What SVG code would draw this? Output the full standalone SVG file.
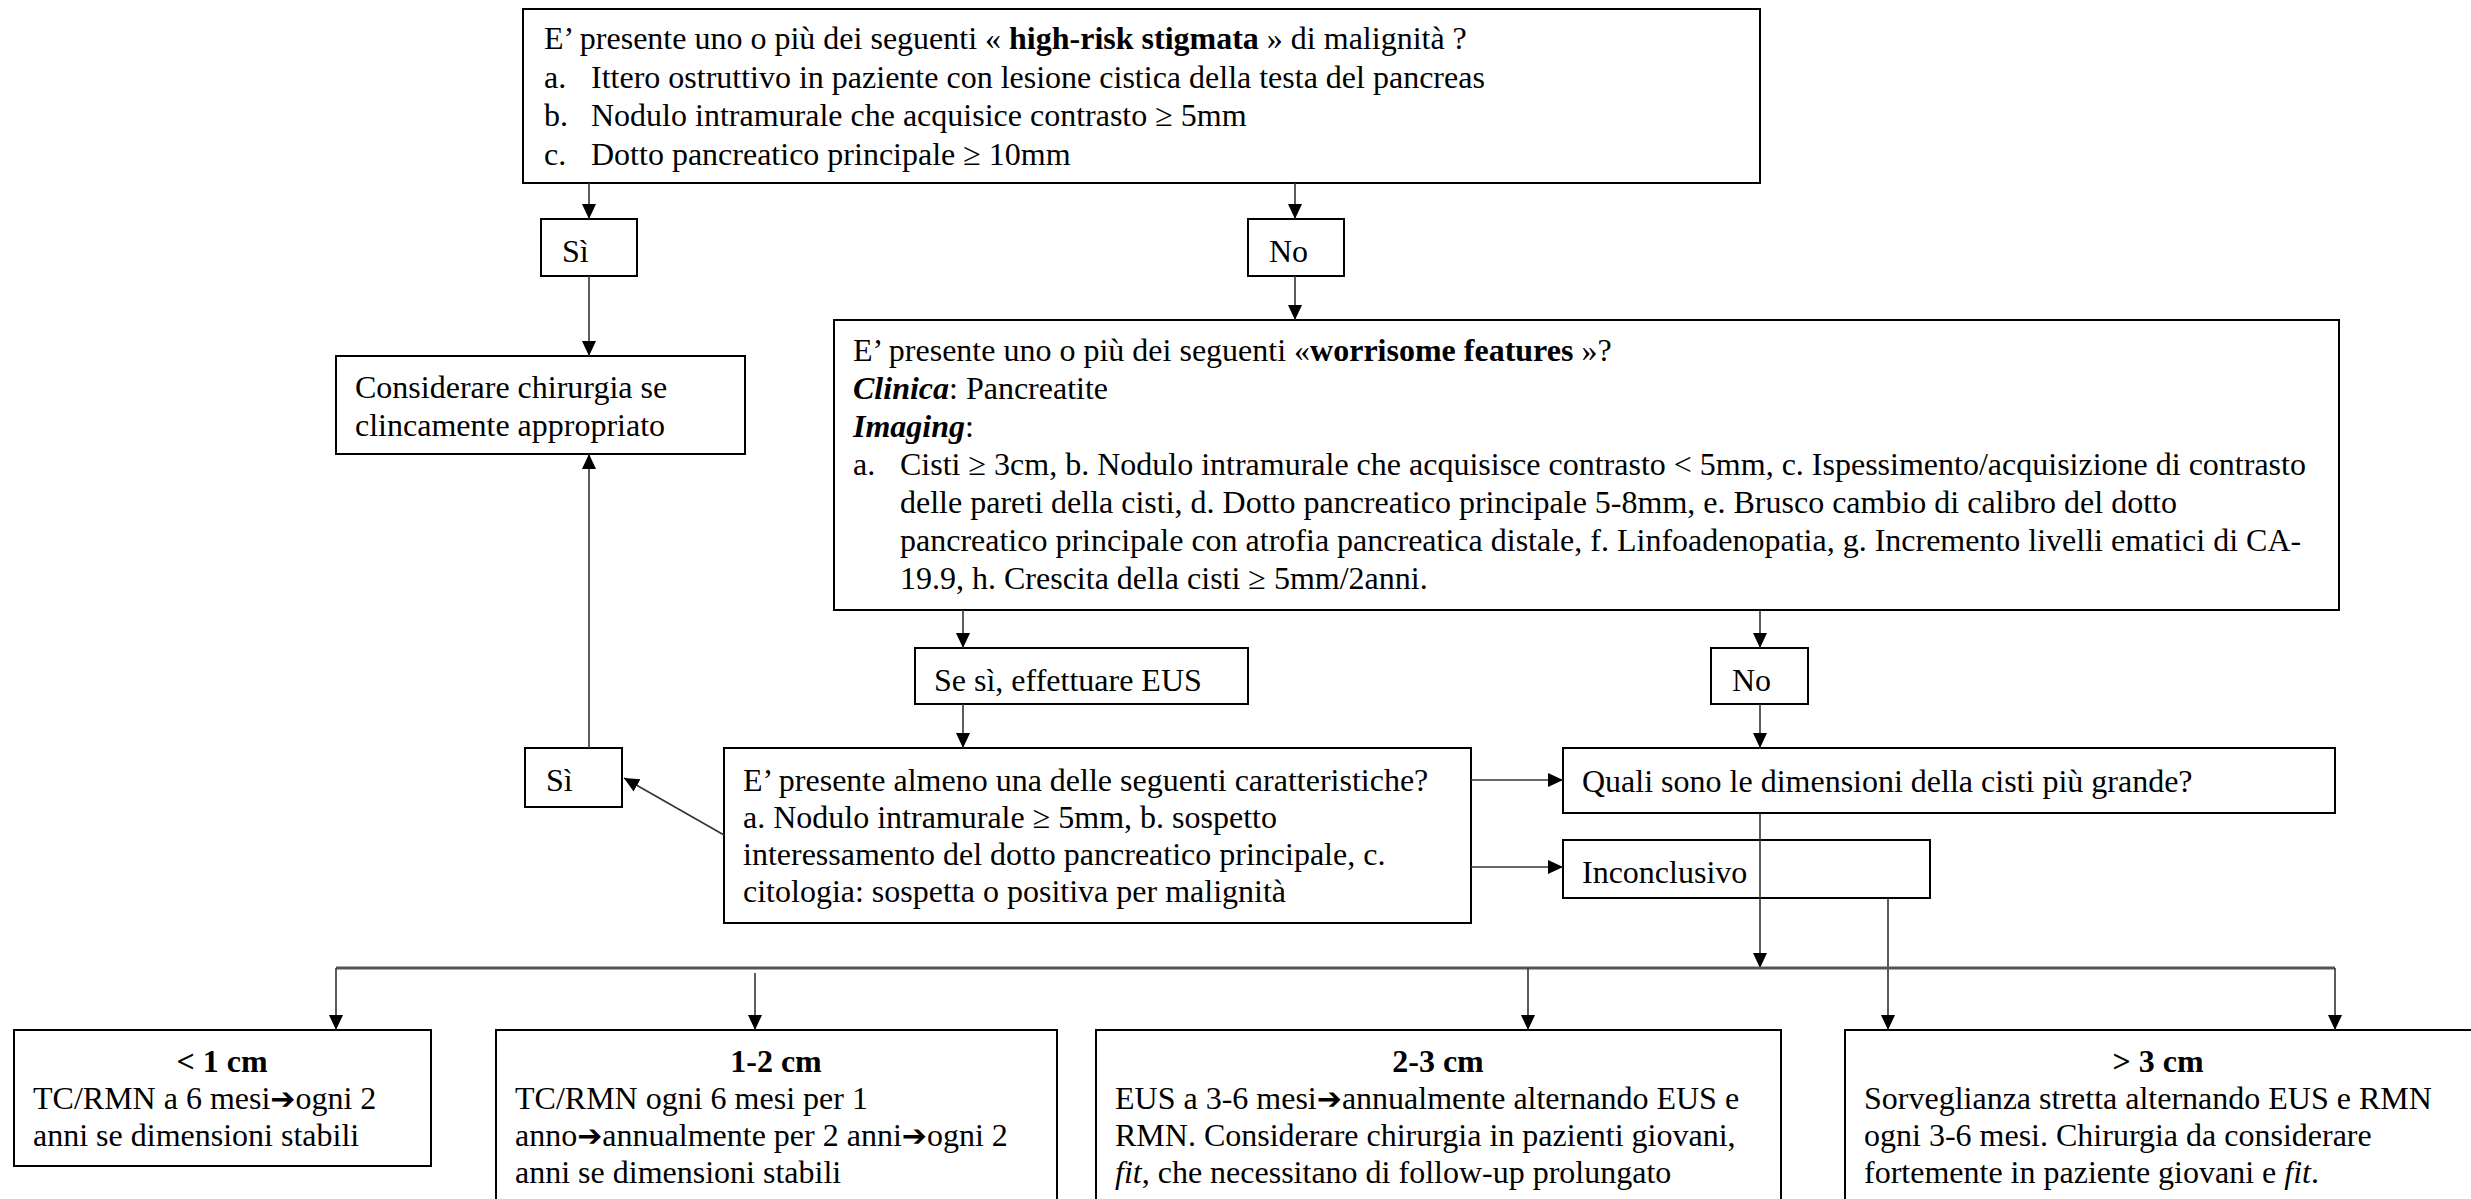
<svg xmlns="http://www.w3.org/2000/svg" width="2471" height="1199" viewBox="0 0 2471 1199">
<style>
.box{fill:#fff;stroke:#000;stroke-width:2}
text{font-family:"Liberation Serif","Times New Roman",serif;font-size:32px;fill:#000}
.b{font-weight:bold}
.bi{font-weight:bold;font-style:italic}
.i{font-style:italic}
.ar{font-family:"DejaVu Sans",sans-serif;font-size:30px;font-weight:bold}
.c{fill:none;stroke:#333;stroke-width:1.6}
.bus{fill:none;stroke:#555;stroke-width:3}
</style>
<defs>
<marker id="ah" markerUnits="userSpaceOnUse" markerWidth="16" markerHeight="16" viewBox="0 0 16 16" refX="15" refY="8" orient="auto">
<path d="M0,1 L15,8 L0,15 z" fill="#000"/>
</marker>
</defs>
<rect width="2471" height="1199" fill="#fff"/>

<g id="n-highrisk">
<rect class="box" x="523" y="9" width="1237" height="174"/>
<text x="544" y="49">E’ presente uno o più dei seguenti « <tspan class="b">high-risk stigmata</tspan> » di malignità ?</text>
<text x="544" y="88">a.</text><text x="591" y="88">Ittero ostruttivo in paziente con lesione cistica della testa del pancreas</text>
<text x="544" y="126">b.</text><text x="591" y="126">Nodulo intramurale che acquisice contrasto ≥ 5mm</text>
<text x="544" y="165">c.</text><text x="591" y="165">Dotto pancreatico principale ≥ 10mm</text>
</g>

<g id="n-si1">
<rect class="box" x="541" y="219" width="96" height="57"/>
<text x="562" y="262">Sì</text>
</g>

<g id="n-no1">
<rect class="box" x="1248" y="219" width="96" height="57"/>
<text x="1269" y="262">No</text>
</g>

<g id="n-chirurgia">
<rect class="box" x="336" y="356" width="409" height="98"/>
<text x="355" y="398">Considerare chirurgia se</text>
<text x="355" y="436">clincamente appropriato</text>
</g>

<g id="n-worrisome">
<rect class="box" x="834" y="320" width="1505" height="290"/>
<text x="853" y="361">E’ presente uno o più dei seguenti «<tspan class="b">worrisome features</tspan> »?</text>
<text x="853" y="399"><tspan class="bi">Clinica</tspan>: Pancreatite</text>
<text x="853" y="437"><tspan class="bi">Imaging</tspan>:</text>
<text x="853" y="475">a.</text>
<text x="900" y="475">Cisti ≥ 3cm, b. Nodulo intramurale che acquisisce contrasto &lt; 5mm, c. Ispessimento/acquisizione di contrasto</text>
<text x="900" y="513">delle pareti della cisti, d. Dotto pancreatico principale 5-8mm, e. Brusco cambio di calibro del dotto</text>
<text x="900" y="551">pancreatico principale con atrofia pancreatica distale, f. Linfoadenopatia, g. Incremento livelli ematici di CA-</text>
<text x="900" y="589">19.9, h. Crescita della cisti ≥ 5mm/2anni.</text>
</g>

<g id="n-eus">
<rect class="box" x="915" y="648" width="333" height="56"/>
<text x="934" y="691">Se sì, effettuare EUS</text>
</g>

<g id="n-no2">
<rect class="box" x="1711" y="648" width="97" height="56"/>
<text x="1732" y="691">No</text>
</g>

<g id="n-caratteristiche">
<rect class="box" x="724" y="748" width="747" height="175"/>
<text x="743" y="791">E’ presente almeno una delle seguenti caratteristiche?</text>
<text x="743" y="828">a. Nodulo intramurale ≥ 5mm, b. sospetto</text>
<text x="743" y="865">interessamento del dotto pancreatico principale, c.</text>
<text x="743" y="902">citologia: sospetta o positiva per malignità</text>
</g>

<g id="n-si2">
<rect class="box" x="525" y="748" width="97" height="59"/>
<text x="546" y="791">Sì</text>
</g>

<g id="n-dimensioni">
<rect class="box" x="1563" y="748" width="772" height="65"/>
<text x="1582" y="792">Quali sono le dimensioni della cisti più grande?</text>
</g>

<g id="n-inconclusivo">
<rect class="box" x="1563" y="840" width="367" height="58"/>
<text x="1582" y="883">Inconclusivo</text>
</g>

<g id="n-lt1">
<rect class="box" x="14" y="1030" width="417" height="136"/>
<text class="b" x="222" y="1072" text-anchor="middle">&lt; 1 cm</text>
<text x="33" y="1109">TC/RMN a 6 mesi<tspan class="ar">➔</tspan>ogni 2</text>
<text x="33" y="1146">anni se dimensioni stabili</text>
</g>

<g id="n-1-2">
<rect class="box" x="496" y="1030" width="561" height="180"/>
<text class="b" x="776" y="1072" text-anchor="middle">1-2 cm</text>
<text x="515" y="1109">TC/RMN ogni 6 mesi per 1</text>
<text x="515" y="1146">anno<tspan class="ar">➔</tspan>annualmente per 2 anni<tspan class="ar">➔</tspan>ogni 2</text>
<text x="515" y="1183">anni se dimensioni stabili</text>
</g>

<g id="n-2-3">
<rect class="box" x="1096" y="1030" width="685" height="180"/>
<text class="b" x="1438" y="1072" text-anchor="middle">2-3 cm</text>
<text x="1115" y="1109">EUS a 3-6 mesi<tspan class="ar">➔</tspan>annualmente alternando EUS e</text>
<text x="1115" y="1146">RMN. Considerare chirurgia in pazienti giovani,</text>
<text x="1115" y="1183"><tspan class="i">fit</tspan>, che necessitano di follow-up prolungato</text>
</g>

<g id="n-gt3">
<rect class="box" x="1845" y="1030" width="640" height="180"/>
<text class="b" x="2158" y="1072" text-anchor="middle">&gt; 3 cm</text>
<text x="1864" y="1109">Sorveglianza stretta alternando EUS e RMN</text>
<text x="1864" y="1146">ogni 3-6 mesi. Chirurgia da considerare</text>
<text x="1864" y="1183">fortemente in paziente giovani e <tspan class="i">fit</tspan>.</text>
</g>

<g id="connectors">
<path class="c" d="M589,183 V219" marker-end="url(#ah)"/>
<path class="c" d="M1295,183 V219" marker-end="url(#ah)"/>
<path class="c" d="M589,276 V356" marker-end="url(#ah)"/>
<path class="c" d="M1295,276 V320" marker-end="url(#ah)"/>
<path class="c" d="M963,610 V648" marker-end="url(#ah)"/>
<path class="c" d="M1760,610 V648" marker-end="url(#ah)"/>
<path class="c" d="M963,704 V748" marker-end="url(#ah)"/>
<path class="c" d="M1760,704 V748" marker-end="url(#ah)"/>
<path class="c" d="M1471,780 H1563" marker-end="url(#ah)"/>
<path class="c" d="M1471,867 H1563" marker-end="url(#ah)"/>
<path class="c" d="M724,835 L624,778" marker-end="url(#ah)"/>
<path class="c" d="M589,748 V454" marker-end="url(#ah)"/>
<path class="c" d="M1760,813 V968" marker-end="url(#ah)"/>
<path class="c" d="M1888,898 V1030" marker-end="url(#ah)"/>
<path class="bus" d="M336,968 H2335"/>
<path class="c" d="M336,968 V1030" marker-end="url(#ah)"/>
<path class="c" d="M755,973 V1030" marker-end="url(#ah)"/>
<path class="c" d="M1528,968 V1030" marker-end="url(#ah)"/>
<path class="c" d="M2335,968 V1030" marker-end="url(#ah)"/>
</g>
</svg>
